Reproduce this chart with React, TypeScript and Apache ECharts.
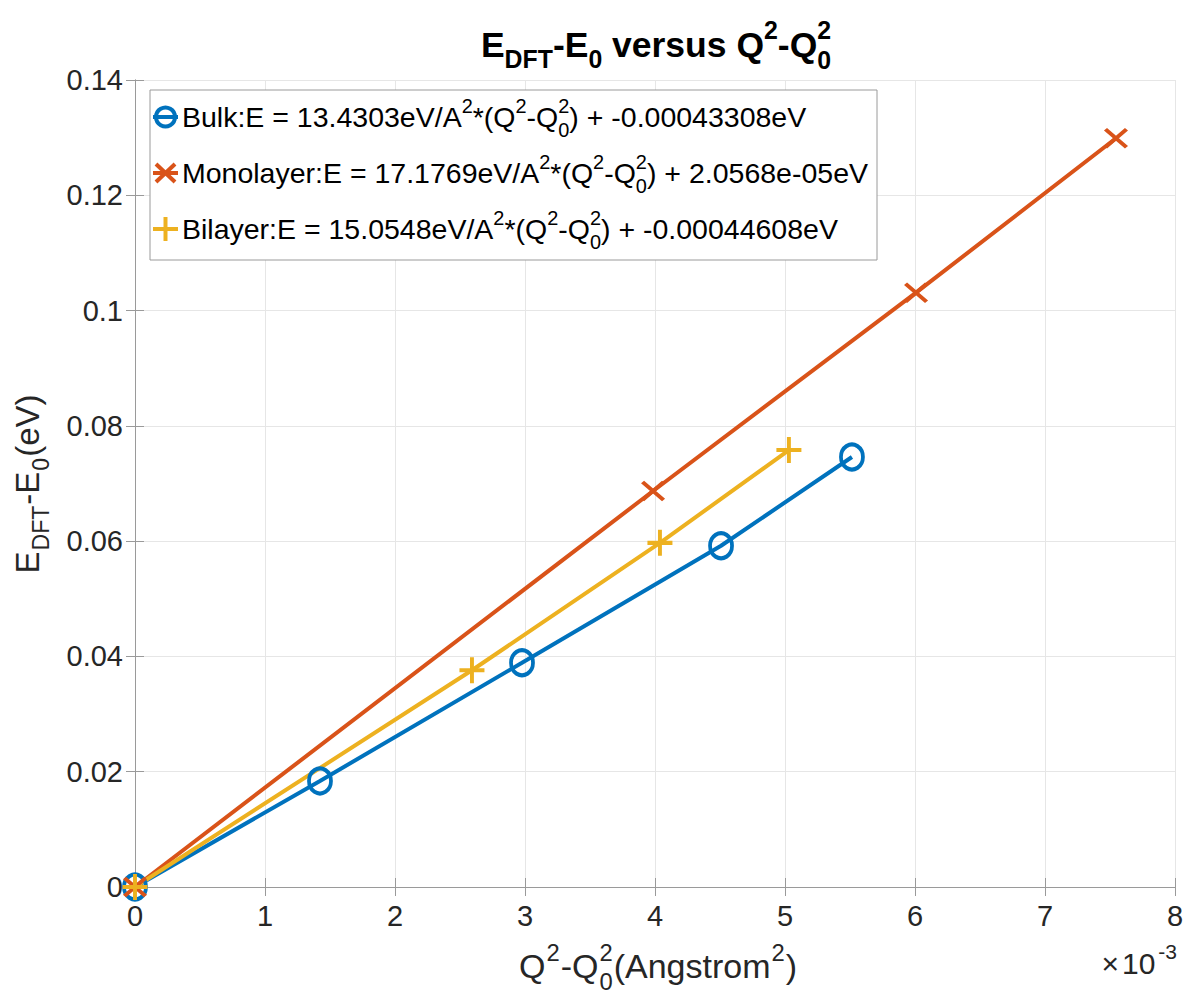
import React, { useEffect, useRef } from 'react';
import * as echarts from 'echarts';

// ---- data (x in Angstrom^2, y in eV) ----
const seriesNames = ['Bulk', 'Monolayer', 'Bilayer'];
const slopes = ['13.4303', '17.1769', '15.0548'];
const intercepts = ['-0.00043308', '2.0568e-05', '-0.00044608'];
const colors = ['#0072BD', '#D95319', '#EDB120'];

const bulkX = [0, 1.423e-3, 2.977e-3, 4.508e-3, 5.515e-3];
const bulkY = [0, 0.0184, 0.0389, 0.0592, 0.0746];
const monoX = [0, 3.985e-3, 6.008e-3, 7.546e-3];
const monoY = [0, 0.0687, 0.1031, 0.1299];
const biX = [0, 2.592e-3, 4.038e-3, 5.03e-3];
const biY = [0, 0.0376, 0.0597, 0.0758];

const xMin = 0, xMax = 0.008, xStep = 0.001;
const yMin = 0, yMax = 0.14, yStep = 0.02;

const FONT = '"Liberation Sans", Arial, Helvetica, sans-serif';
const TXT = '#262626';

let mctx: CanvasRenderingContext2D | null = null;
function measure(t: string, size: number, weight: string) {
  if (!mctx) mctx = document.createElement('canvas').getContext('2d');
  mctx!.font = `${weight} ${size}px ${FONT}`;
  return mctx!.measureText(t).width;
}

type Tok = [string, string?, string?];
function mathText(toks: Tok[], size: number, weight: string, color: string, anchor: 'left' | 'center' | 'right', gap = 0) {
  const s = size * 0.7;
  const items: any[] = [];
  let x = 0;
  const mk = (t: string, px: number, py: number, fs: number) => ({
    type: 'text', x: px, y: py, silent: true,
    style: { text: t, fontSize: fs, fontFamily: FONT, fontWeight: weight, fill: color, align: 'left', verticalAlign: 'middle' },
  });
  toks.forEach(([t, k = 'n', t2], i) => {
    if (i > 0) x += gap;
    if (k === 'n') {
      items.push(mk(t, x, 0, size)); x += measure(t, size, weight);
    } else if (k === 'sup') {
      items.push(mk(t, x, -0.4 * size, s)); x += measure(t, s, weight);
    } else if (k === 'sub') {
      items.push(mk(t, x, 0.42 * size, s)); x += measure(t, s, weight);
    } else {
      items.push(mk(t, x, 0.45 * size, s));
      items.push(mk(t2 || '', x, -0.4 * size, s));
      x += Math.max(measure(t, s, weight), measure(t2 || '', s, weight));
    }
  });
  const off = anchor === 'left' ? 0 : anchor === 'center' ? -x / 2 : -x;
  items.forEach((e) => (e.x += off));
  return items;
}

function buildOption() {
  const pts = (xs: number[], ys: number[]) => xs.map((x, i) => [x, ys[i]]);
  const mkSeries = (i: number, data: number[][], symbol: string, symbolSize: any) => ({
    type: 'line',
    name: seriesNames[i],
    data,
    symbol,
    symbolSize,
    showSymbol: true,
    clip: false,
    lineStyle: { color: colors[i], width: 4 },
    itemStyle: { color: 'rgba(0,0,0,0)', borderColor: colors[i], borderWidth: 4 },
    emphasis: { disabled: true },
    animation: false,
  });

  const axisCommon = {
    type: 'value',
    axisLine: { show: true, lineStyle: { color: '#9a9a9a', width: 1 } },
    axisTick: { show: true, inside: true, length: 9, lineStyle: { color: '#9a9a9a' } },
  };

  const titleEls = mathText(
    [['E'], ['DFT', 'sub'], ['-'], ['E'], ['0', 'sub'], [' versus '], ['Q'], ['2', 'sup'], ['-'], ['Q'], ['0', 'ss', '2']],
    35.5, 'bold', '#000', 'center');
  const xLabelEls = mathText(
    [['Q'], ['2', 'sup'], ['-Q'], ['0', 'ss', '2'], ['(Angstrom'], ['2', 'sup'], [')']],
    34, 'normal', TXT, 'center', 1);
  const yLabelEls = mathText(
    [['E'], ['DFT', 'sub'], ['-E'], ['0', 'sub'], ['(eV)']],
    33, 'normal', TXT, 'center', 1);
  const multEls = mathText([['\u00d7'], ['10'], ['-3', 'sup']], 30, 'normal', TXT, 'right', 3);

  const rowsY = [117, 173, 229];
  const legendEls: any[] = [
    { type: 'rect', z: 100, shape: { x: 150, y: 90, width: 727, height: 170 }, style: { fill: '#fff', stroke: '#9a9a9a', lineWidth: 1 } },
  ];
  seriesNames.forEach((nm, i) => {
    const cy = rowsY[i];
    const c = colors[i];
    legendEls.push({ type: 'line', z: 101, shape: { x1: 153, y1: cy, x2: 178, y2: cy }, style: { stroke: c, lineWidth: 4 } });
    if (i === 0) {
      legendEls.push({ type: 'circle', z: 101, shape: { cx: 165.5, cy, r: 9.5 }, style: { fill: 'none', stroke: c, lineWidth: 4 } });
    } else if (i === 1) {
      legendEls.push({ type: 'line', z: 101, shape: { x1: 156, y1: cy - 9, x2: 175, y2: cy + 9 }, style: { stroke: c, lineWidth: 4 } });
      legendEls.push({ type: 'line', z: 101, shape: { x1: 156, y1: cy + 9, x2: 175, y2: cy - 9 }, style: { stroke: c, lineWidth: 4 } });
    } else {
      legendEls.push({ type: 'line', z: 101, shape: { x1: 165.5, y1: cy - 12, x2: 165.5, y2: cy + 12 }, style: { stroke: c, lineWidth: 4 } });
    }
    const tEls = mathText(
      [[`${nm}:E = ${slopes[i]}eV/A`], ['2', 'sup'], ['*(Q'], ['2', 'sup'], ['-Q'], ['0', 'ss', '2'], [`) + ${intercepts[i]}eV`]],
      28.5, 'normal', '#000', 'left');
    legendEls.push({ type: 'group', x: 182, y: cy, z: 101, children: tEls.map((e) => ({ ...e, z: 101 })) });
  });

  return {
    animation: false,
    backgroundColor: '#fff',
    grid: { left: 135, right: 15, top: 80, bottom: 109, containLabel: false },
    xAxis: [
      {
        ...axisCommon, position: 'bottom', min: xMin, max: xMax, interval: xStep,
        axisLabel: { show: true, margin: 14, color: TXT, fontSize: 29, fontFamily: FONT, formatter: (v: number) => String(Math.round(v / xStep)) },
        splitLine: { show: true, lineStyle: { color: '#e6e6e6', width: 1 } },
      },
      {
        ...axisCommon, position: 'top', min: xMin, max: xMax, interval: xStep,
        axisLabel: { show: false }, splitLine: { show: false },
      },
    ],
    yAxis: [
      {
        ...axisCommon, position: 'left', min: yMin, max: yMax, interval: yStep,
        axisLabel: { show: true, margin: 12, color: TXT, fontSize: 29, fontFamily: FONT, formatter: (v: number) => String(+v.toFixed(2)) },
        splitLine: { show: true, lineStyle: { color: '#e6e6e6', width: 1 } },
      },
      {
        ...axisCommon, position: 'right', min: yMin, max: yMax, interval: yStep,
        axisLabel: { show: false }, splitLine: { show: false },
      },
    ],
    series: [
      mkSeries(0, pts(bulkX, bulkY), 'circle', [22, 25]),
      mkSeries(1, pts(monoX, monoY), 'path://M0,0L20,17M0,17L20,0', [21, 18]),
      mkSeries(2, pts(biX, biY), 'path://M10,0L10,20M0,10L20,10', [25, 26]),
    ],
    graphic: [
      { type: 'group', x: 656, y: 45, children: titleEls },
      { type: 'group', x: 658, y: 966, children: xLabelEls },
      { type: 'group', x: 27, y: 484, rotation: Math.PI / 2, children: yLabelEls },
      { type: 'group', x: 1177, y: 963, children: multEls },
      ...legendEls,
    ],
  };
}

export default function App() {
  const ref = useRef<HTMLDivElement>(null);
  useEffect(() => {
    const chart = echarts.init(ref.current!, null, { renderer: 'svg' });
    chart.setOption(buildOption() as any);
    return () => chart.dispose();
  }, []);
  return (
    <div
      ref={ref}
      style={{ position: 'fixed', left: 0, top: 0, width: 1190, height: 996, background: '#fff' }}
    />
  );
}
